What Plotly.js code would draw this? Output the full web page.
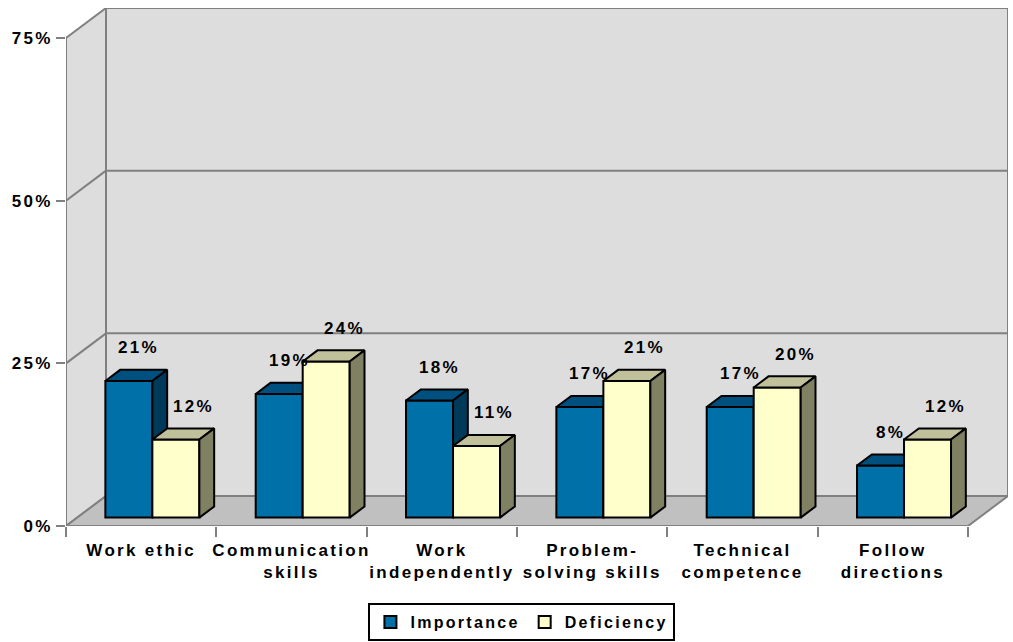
<!DOCTYPE html>
<html>
<head>
<meta charset="utf-8">
<script src="https://cdn.plot.ly/plotly-3.0.1.min.js"></script>
<style>
  html, body { margin: 0; padding: 0; background: #ffffff; }
  #chart { width: 1013px; height: 642px; }
  text { letter-spacing: 2.3px; }
</style>
</head>
<body>
<div id="chart"></div>
<script>
// ---------------- data ----------------
const categories = ['Work ethic', 'Communication<br>skills', 'Work<br>independently',
                    'Problem-<br>solving skills', 'Technical<br>competence', 'Follow<br>directions'];
const importance = [21, 19, 18, 17, 17, 8];
const deficiency = [12, 24, 11, 21, 20, 12];
const seriesNames = ['Importance', 'Deficiency'];
const yTickVals = [0, 25, 50, 75];
const yTickText = ['0%', '25%', '50%', '75%'];

// ---------------- geometry / style ----------------
const W = 1013, H = 642;
const M = {l: 66, r: 5, t: 8, b: 116, autoexpand: false};
const DEPTH_DX = 40, DEPTH_DY = 30;       // pixel offset of back wall
const BAR_FRONT = 0.28, BAR_DEPTH = 0.37; // depth fractions of bars
const BAR_W_PX = 47;
const Y_FRONT_MAX = 75;
const LABEL_DX_PX = [-5, 3];              // label shift relative to bar back face
const LABEL_DY_PX = 22;

const FONT = {family: '"Liberation Sans", Arial, Helvetica, sans-serif', size: 17, color: '#000000', weight: 'bold'};
const LEGEND_FONT = Object.assign({}, FONT, {size: 16});
const WALL = '#DDDDDD', FLOOR = '#C0C0C0', EDGE = '#808080';
const COLORS = [
  {front: '#0070A8', top: '#00507F', side: '#003A5A'},
  {front: '#FFFFCC', top: '#C0C09A', side: '#808062'}
];

const n = categories.length;
const plotW = W - M.l - M.r, plotH = H - M.t - M.b;
const catW = (plotW - DEPTH_DX) / n;
const pxY = (plotH - DEPTH_DY) / Y_FRONT_MAX;
const xRange = [-0.5, -0.5 + plotW / catW];
const yRange = [0, plotH / pxY];
const dxD = DEPTH_DX / catW, dyD = DEPTH_DY / pxY;
const bw = BAR_W_PX / catW;
const bx0 = BAR_FRONT * dxD, by0 = BAR_FRONT * dyD;
const bdx = BAR_DEPTH * dxD, bdy = BAR_DEPTH * dyD;
const xLeft = -0.5, xRight = n - 0.5;

const idx = categories.map((c, i) => i);

// ---------------- traces ----------------
const allSeries = [importance, deficiency];
const traces = [];
const annotations = [];
allSeries.forEach((vals, s) => {
  const xa = s === 0 ? 'x' : 'x2', ya = s === 0 ? 'y' : 'y2';
  const off = s === 0 ? -bw : 0;
  traces.push({
    type: 'bar', name: seriesNames[s], xaxis: xa, yaxis: ya,
    x: idx.map(i => i + bx0), y: vals, base: vals.map(() => by0),
    width: bw, offset: off,
    marker: {color: COLORS[s].front, line: {color: '#000000', width: 2}},
    hoverinfo: 'skip', showlegend: true
  });
  const topX = [], topY = [], sideX = [], sideY = [];
  vals.forEach((v, i) => {
    const L = i + bx0 + off, R = L + bw, B = by0, T = by0 + v;
    topX.push(L, R, R + bdx, L + bdx, L, null);
    topY.push(T, T, T + bdy, T + bdy, T, null);
    sideX.push(R, R, R + bdx, R + bdx, R, null);
    sideY.push(B, T, T + bdy, B + bdy, B, null);
    annotations.push({
      xref: xa, yref: ya, x: (L + R) / 2 + bdx + LABEL_DX_PX[s] / catW, y: T + bdy,
      yshift: LABEL_DY_PX, text: v + '%', showarrow: false,
      xanchor: 'center', yanchor: 'middle', font: FONT
    });
  });
  traces.push({type: 'scatter', mode: 'lines', xaxis: xa, yaxis: ya, x: topX, y: topY,
    fill: 'toself', fillcolor: COLORS[s].top, line: {color: '#000000', width: 2},
    hoverinfo: 'skip', showlegend: false});
  traces.push({type: 'scatter', mode: 'lines', xaxis: xa, yaxis: ya, x: sideX, y: sideY,
    fill: 'toself', fillcolor: COLORS[s].side, line: {color: '#000000', width: 2},
    hoverinfo: 'skip', showlegend: false});
});

// ---------------- walls, floor, gridlines ----------------
const P = (pts) => 'M' + pts.map(p => p[0] + ',' + p[1]).join(' L') + ' Z';
const shapes = [];
shapes.push({type: 'path', xref: 'x', yref: 'y', layer: 'below',
  path: P([[xLeft + dxD, dyD], [xRight + dxD, dyD], [xRight + dxD, Y_FRONT_MAX + dyD], [xLeft + dxD, Y_FRONT_MAX + dyD]]),
  fillcolor: WALL, line: {color: EDGE, width: 2}});
shapes.push({type: 'path', xref: 'x', yref: 'y', layer: 'below',
  path: P([[xLeft, 0], [xLeft, Y_FRONT_MAX], [xLeft + dxD, Y_FRONT_MAX + dyD], [xLeft + dxD, dyD]]),
  fillcolor: WALL, line: {color: EDGE, width: 2}});
shapes.push({type: 'path', xref: 'x', yref: 'y', layer: 'below',
  path: P([[xLeft, 0], [xRight, 0], [xRight + dxD, dyD], [xLeft + dxD, dyD]]),
  fillcolor: FLOOR, line: {color: EDGE, width: 2}});
yTickVals.filter(v => v > 0 && v < Y_FRONT_MAX).forEach(v => {
  shapes.push({type: 'line', xref: 'x', yref: 'y', layer: 'below',
    x0: xLeft + dxD, x1: xRight + dxD, y0: v + dyD, y1: v + dyD, line: {color: EDGE, width: 2}});
  shapes.push({type: 'line', xref: 'x', yref: 'y', layer: 'below',
    x0: xLeft, x1: xLeft + dxD, y0: v, y1: v + dyD, line: {color: EDGE, width: 2}});
});

// ---------------- layout ----------------
const layout = {
  width: W, height: H, margin: M,
  paper_bgcolor: '#ffffff', plot_bgcolor: 'rgba(0,0,0,0)',
  font: FONT,
  barmode: 'overlay',
  showlegend: true,
  legend: {orientation: 'h', x: 0.484, xanchor: 'center', y: -0.222, yanchor: 'bottom',
    bordercolor: '#000000', borderwidth: 2, bgcolor: '#ffffff', font: LEGEND_FONT,
    itemwidth: 30, tracegroupgap: 0},
  xaxis: {range: xRange, tickmode: 'array', tickvals: idx, ticktext: categories,
    tickangle: 0, automargin: false, ticklabelstandoff: 12,
    ticks: '', showgrid: false, zeroline: false, showline: false, fixedrange: true,
    tickfont: FONT,
    minor: {tickmode: 'linear', tick0: -0.5, dtick: 1, ticks: 'outside', ticklen: 10,
      tickwidth: 2, tickcolor: EDGE, showgrid: false}},
  yaxis: {range: yRange, tickmode: 'array', tickvals: yTickVals, ticktext: yTickText,
    automargin: false,
    ticks: 'outside', ticklen: 9, tickwidth: 2, tickcolor: EDGE,
    showgrid: false, zeroline: false, showline: false, fixedrange: true, tickfont: FONT},
  xaxis2: {range: xRange, overlaying: 'x', visible: false, fixedrange: true},
  yaxis2: {range: yRange, overlaying: 'y', visible: false, fixedrange: true},
  shapes: shapes,
  annotations: annotations
};

Plotly.newPlot('chart', traces, layout, {displayModeBar: false, staticPlot: true});
</script>
</body>
</html>
